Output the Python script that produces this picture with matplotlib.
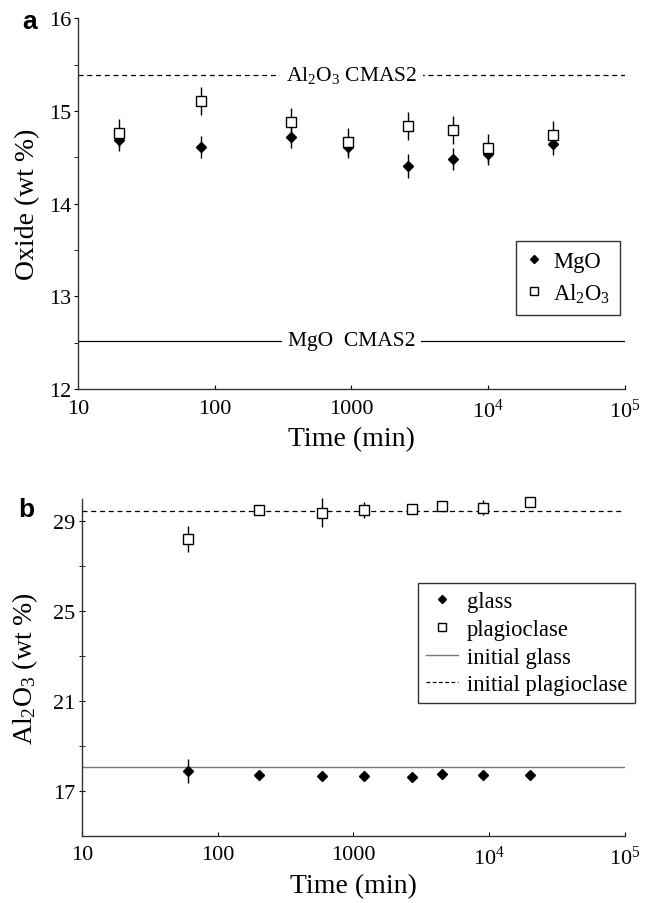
import matplotlib
matplotlib.use("Agg")
import matplotlib.pyplot as plt
from matplotlib.lines import Line2D

plt.rcParams['font.family'] = ['Liberation Serif', 'DejaVu Serif']
plt.rcParams['mathtext.fontset'] = 'custom'
plt.rcParams['mathtext.rm'] = 'Liberation Serif'
plt.rcParams['mathtext.it'] = 'Liberation Serif:italic'

# ---- Panel a data ----
time_a = [20, 80, 360, 950, 2600, 5500, 9900, 30000]
mgo_a = [14.69, 14.61, 14.72, 14.61, 14.41, 14.48, 14.54, 14.64]
mgo_err = [0.12, 0.12, 0.12, 0.12, 0.13, 0.12, 0.12, 0.12]
al_a = [14.76, 15.11, 14.88, 14.67, 14.84, 14.79, 14.60, 14.74]
al_err = [0.15, 0.15, 0.15, 0.15, 0.15, 0.15, 0.15, 0.15]
al_cmas2 = 15.39
mgo_cmas2 = 12.52

# ---- Panel b data ----
time_b = [60, 200, 590, 1200, 2700, 4500, 9000, 20000]
glass_b = [17.87, 17.72, 17.68, 17.65, 17.60, 17.74, 17.72, 17.72]
glass_err = [0.53, 0.1, 0.1, 0.1, 0.1, 0.1, 0.1, 0.1]
plag_b = [28.23, 29.52, 29.39, 29.51, 29.55, 29.71, 29.61, 29.86]
plag_err = [0.58, 0.15, 0.65, 0.36, 0.15, 0.2, 0.33, 0.15]
init_glass = 18.08
init_plag = 29.45

xticks = [10, 100, 1000, 1e4, 1e5]
xticklabels = ['10', '100', '1000', r'10$^{4}$', r'10$^{5}$']

fig = plt.figure(figsize=(6.45, 9.04), dpi=100)
axa = fig.add_axes([0.1209, 0.5686, 0.8481, 0.4101])
axb = fig.add_axes([0.1271, 0.0744, 0.8419, 0.3725])

TICK_FS = 16
LAB_FS = 20
TXT_FS = 15.5
LEG_FS = 16.3

def style(ax):
    ax.set_xscale('log')
    ax.set_xlim(10, 1e5)
    ax.set_xticks(xticks)
    ax.set_xticklabels(xticklabels)
    ax.xaxis.set_minor_locator(matplotlib.ticker.NullLocator())
    for s in ['top', 'right']:
        ax.spines[s].set_visible(False)
    for s in ['left', 'bottom']:
        ax.spines[s].set_linewidth(1.0)
        ax.spines[s].set_color('#333333')
    ax.tick_params(axis='x', which='major', direction='in', length=3, labelsize=TICK_FS, pad=7)
    ax.tick_params(axis='y', which='both', direction='out', length=3, labelsize=TICK_FS, pad=2)
    ax.set_xlabel('Time (min)', fontsize=LAB_FS, labelpad=3)

# ---- Panel a ----
style(axa)
axa.set_ylim(12, 16)
axa.set_yticks([12, 13, 14, 15, 16])
axa.set_yticks([12.5, 13.5, 14.5, 15.5], minor=True)
axa.axhline(al_cmas2, color='black', lw=0.9, ls=(0, (4, 3)), zorder=1)
axa.axhline(mgo_cmas2, color='black', lw=0.9, ls='-', zorder=1)
axa.text(1000, al_cmas2, r'Al$_2$O$_3$ CMAS2', ha='center', va='center', fontsize=TXT_FS,
         bbox=dict(facecolor='white', edgecolor='none', pad=4), zorder=2)
axa.text(1000, mgo_cmas2, 'MgO  CMAS2', ha='center', va='center', fontsize=TXT_FS,
         bbox=dict(facecolor='white', edgecolor='none', pad=4), zorder=2)
axa.errorbar(time_a, mgo_a, yerr=mgo_err, fmt='D', color='black', ms=5.2, mfc='black',
             mec='black', elinewidth=1, capsize=0, zorder=3)
axa.errorbar(time_a, al_a, yerr=al_err, fmt='s', color='black', ms=7, mfc='white',
             mec='black', mew=1, elinewidth=1, capsize=0, zorder=4)
axa.set_ylabel('Oxide (wt %)', fontsize=LAB_FS, labelpad=6)
ha = [Line2D([], [], marker='D', color='black', ls='none', ms=3.8),
      Line2D([], [], marker='s', color='black', mfc='white', ls='none', ms=5.5, mew=1)]
lega = axa.legend(ha, ['MgO', r'Al$_2$O$_3$'], loc='upper left', bbox_to_anchor=(0.80, 0.399),
                  fontsize=LEG_FS, frameon=True, fancybox=False, handlelength=0.7, handletextpad=0.5,
                  borderpad=0.45, labelspacing=0.4, borderaxespad=0)
lega.get_frame().set_edgecolor('black')
lega.get_frame().set_linewidth(1.0)
fig.text(0.034, 0.976, 'a', fontsize=19, fontweight='bold', family='Liberation Sans', va='center')

# ---- Panel b ----
style(axb)
axb.set_ylim(15, 30)
axb.set_yticks([17, 21, 25, 29])
axb.set_yticks([19, 23, 27], minor=True)
axb.tick_params(axis='y', which='both', direction='inout', length=5)
axb.axhline(init_glass, color='#777777', lw=1.0, ls='-', zorder=1)
axb.axhline(init_plag, color='black', lw=0.9, ls=(0, (4, 3)), zorder=1)
axb.errorbar(time_b, glass_b, yerr=glass_err, fmt='D', color='black', ms=5.2, mfc='black',
             mec='black', elinewidth=1, capsize=0, zorder=3, clip_on=False)
axb.errorbar(time_b, plag_b, yerr=plag_err, fmt='s', color='black', ms=7, mfc='white',
             mec='black', mew=1, elinewidth=1, capsize=0, zorder=4, clip_on=False)
axb.set_ylabel(r'Al$_2$O$_3$ (wt %)', fontsize=LAB_FS, labelpad=10)
hb = [Line2D([], [], marker='D', color='black', ls='none', ms=3.8),
      Line2D([], [], marker='s', color='black', mfc='white', ls='none', ms=5.5, mew=1),
      Line2D([], [], color='#777777', lw=1.0),
      Line2D([], [], color='black', lw=0.9, ls=(0, (3, 2)))]
legb = axb.legend(hb, ['glass', 'plagioclase', 'initial glass', 'initial plagioclase'],
                  loc='upper left', bbox_to_anchor=(0.619, 0.7505), fontsize=LEG_FS, frameon=True,
                  fancybox=False, handlelength=1.4, handletextpad=0.4, borderpad=0.35,
                  labelspacing=0.3, borderaxespad=0)
legb.get_frame().set_edgecolor('black')
legb.get_frame().set_linewidth(1.0)
fig.text(0.028, 0.436, 'b', fontsize=19, fontweight='bold', family='Liberation Sans', va='center')

fig.savefig('out.png', dpi=100)
